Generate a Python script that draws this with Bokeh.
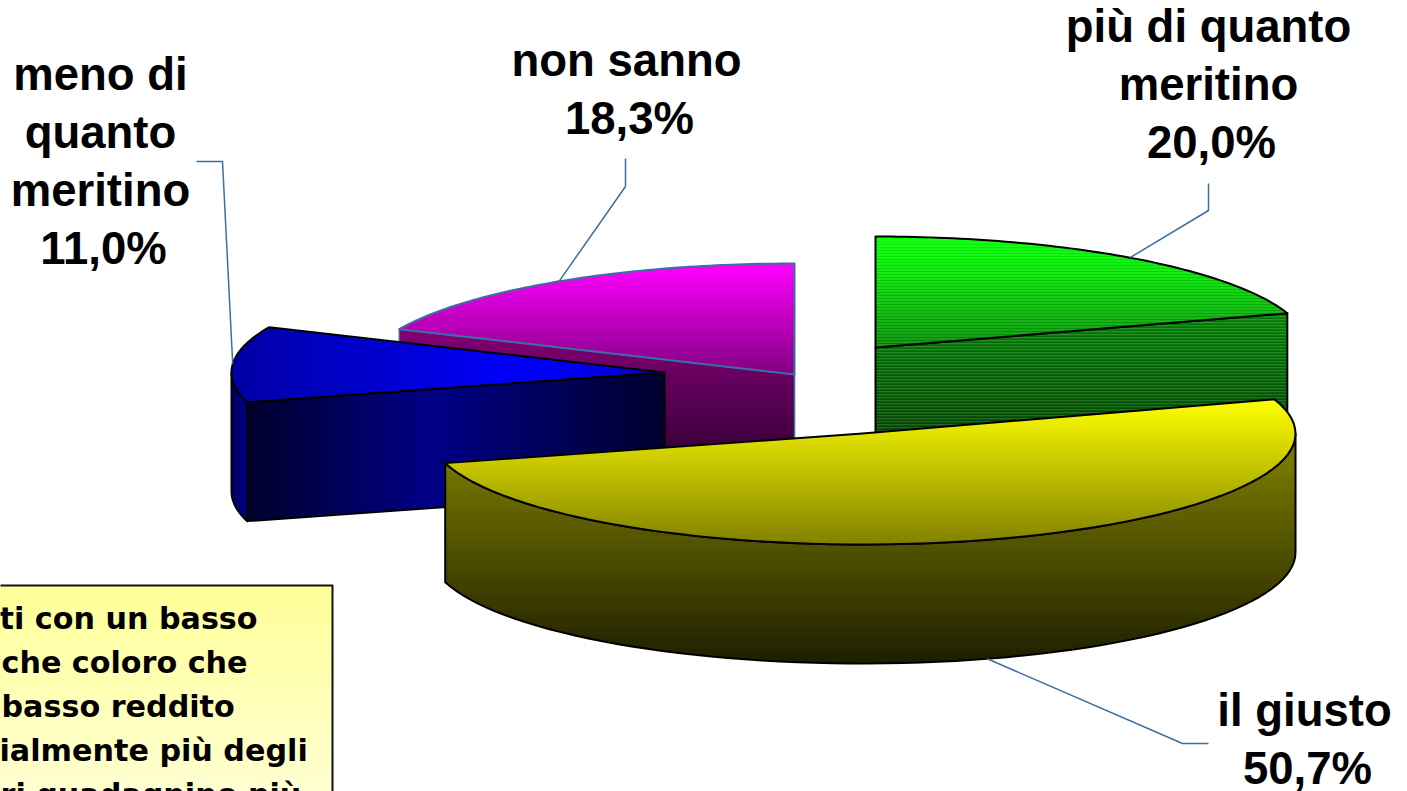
import math
from bokeh.plotting import figure
from bokeh.core.properties import value
from bokeh.embed import file_html
from bokeh.resources import INLINE

# ---- data
SHARES = [20.0, 50.7, 11.0, 18.3]
LABEL_LINES = [["più di quanto", "meritino"], ["il giusto"], ["meno di", "quanto", "meritino"], ["non sanno"]]
NOTE_LINES = ["ti con un basso", "che coloro che", "basso reddito", "ialmente più degli", "ri quadagnino più"]

# ---- layout / style
W, H = 1407, 791
RX, RY, DEPTH = 433, 111, 119
CENTERS = [(875, 347), (862, 433), (664, 372), (794, 374)]
LABEL_FONT = "Liberation Sans"
NOTE_FONT = "DejaVu Sans"
LABEL_SIZE = "45.5px"
NOTE_SIZE = "30.2px"
LEADER = "#3b6ea5"
SCAN = True

p = figure(width=W, height=H, x_range=(0, W), y_range=(H, 0), x_axis_type=None, y_axis_type=None,
           output_backend="svg", toolbar_location=None, min_border=0, outline_line_color=None)
p.grid.visible = False
p.background_fill_color = "white"
p.border_fill_color = "white"


def pt(c, deg, dz=0):
    a = math.radians(deg)
    return (c[0] + RX * math.sin(a), c[1] - RY * math.cos(a) + dz)


def arc(c, a0, a1, dz=0, n=70):
    return [pt(c, a0 + (a1 - a0) * i / n, dz) for i in range(n + 1)]


def clip(poly, axis, lim):
    """Keep the part of poly with coordinate >= lim."""
    out = []
    for i, a in enumerate(poly):
        b = poly[(i + 1) % len(poly)]
        ina, inb = a[axis] >= lim, b[axis] >= lim
        if ina:
            out.append(a)
        if ina != inb:
            t = (lim - a[axis]) / (b[axis] - a[axis])
            out.append((a[0] + t * (b[0] - a[0]), a[1] + t * (b[1] - a[1])))
    return out


def ramp(stops, v):
    if v <= stops[0][0]:
        return stops[0][1]
    for (v0, c0), (v1, c1) in zip(stops, stops[1:]):
        if v <= v1:
            t = (v - v0) / (v1 - v0)
            return tuple(c0[i] + t * (c1[i] - c0[i]) for i in range(3))
    return stops[-1][1]


def gradient(poly, axis, stops, step=2, scan=False):
    lo = min(q[axis] for q in poly)
    hi = max(q[axis] for q in poly)
    xs, ys, cols = [], [], []
    v = lo
    k = 0
    while v < hi:
        part = clip(poly, axis, v) if v > lo else poly
        if len(part) >= 3:
            r, g, b = ramp(stops, v)
            if scan and k % 3 == 0:
                r, g, b = min(r + 50, 255), min(g + 40, 255), min(b + 50, 255)
            xs.append([q[0] for q in part])
            ys.append([q[1] for q in part])
            cols.append("#%02x%02x%02x" % (int(r), int(g), int(b)))
        v += step
        k += 1
    p.patches(xs, ys, fill_color=cols, line_color=None)


def outline(poly, color, width=2):
    p.patch([q[0] for q in poly], [q[1] for q in poly], fill_color=None, line_color=color,
            line_width=width, line_join="round")


# angles from the shares, clockwise from the top
edges = [0.0]
for s in SHARES:
    edges.append(edges[-1] + s / sum(SHARES) * 360)
mids = [(a + b) / 2 for a, b in zip(edges, edges[1:])]

# ---- magenta slice
c, a0, a1 = CENTERS[3], edges[3], edges[4]
face = [pt(c, a0), c, (c[0], c[1] + DEPTH), pt(c, a0, DEPTH)]
gradient(face, 1, [(335, (128, 0, 115)), (445, (60, 0, 60))])
outline(face, LEADER, 1.5)
top = arc(c, a0, a1) + [c]
gradient(top, 1, [(263, (255, 0, 255)), (374, (128, 0, 128))])
outline(top, LEADER, 2)

# ---- green slice
c, a0, a1 = CENTERS[0], edges[0], edges[1]
face = [c, pt(c, a1), pt(c, a1, DEPTH), (c[0], c[1] + DEPTH)]
gradient(face, 1, [(312, (0, 125, 0)), (432, (0, 68, 0))], step=1, scan=SCAN)
outline(face, "black")
top = arc(c, a0, a1) + [c]
gradient(top, 1, [(236, (0, 255, 0)), (347, (0, 128, 0))], step=1, scan=SCAN)
outline(top, "black")

# ---- blue slice
c, a0, a1 = CENTERS[2], edges[2], edges[3]
face = [c, pt(c, a0), pt(c, a0, DEPTH), (c[0], c[1] + DEPTH)]
gradient(face, 0, [(246, (0, 0, 45)), (430, (0, 0, 135)), (664, (0, 0, 45))])
outline(face, "black")
rim = arc(c, a0, 270, n=20) + arc(c, 270, a0, DEPTH, n=20)
gradient(rim, 0, [(232, (0, 0, 100)), (246, (0, 0, 140))], step=1)
outline(rim, "black")
top = arc(c, a0, a1) + [c]
gradient(top, 0, [(232, (0, 0, 165)), (530, (0, 0, 255)), (664, (0, 0, 195))])
outline(top, "black")

# ---- yellow slice
c, a0, a1 = CENTERS[1], edges[1], edges[2]
rim = arc(c, 90, a1) + arc(c, a1, 90, DEPTH)
gradient(rim, 1, [(465, (118, 118, 0)), (664, (30, 30, 0))])
outline(rim, "black")
top = arc(c, a0, a1) + [c]
gradient(top, 1, [(399, (255, 255, 0)), (545, (128, 128, 0))])
outline(top, "black")

# ---- leader lines
ANCH = [pt(CENTERS[0], mids[0]), pt(CENTERS[1], mids[1], DEPTH), pt(CENTERS[2], mids[2]), pt(CENTERS[3], mids[3])]
ELBOWS = [[(1208, 210), (1208, 183)], [(1182, 743), (1208, 743)], [(222, 161), (196, 161)], [(625, 186), (625, 158)]]
for a, e in zip(ANCH, ELBOWS):
    pts = [a] + e
    p.line([q[0] for q in pts], [q[1] for q in pts], line_color=LEADER, line_width=1.5)

# ---- note box
BOX = [(-4, 585), (332, 585), (332, 800), (-4, 800)]
gradient(BOX, 1, [(585, (255, 255, 153)), (791, (255, 255, 210))])
outline(BOX, "#111111", 2)
NOTE_X = [-1, 1, 1, -1, 0]
NOTE_Y = [618, 662, 706, 750, 794]
p.text(NOTE_X, NOTE_Y, text=NOTE_LINES, text_font=value(NOTE_FONT), text_font_style="bold",
       text_font_size=value(NOTE_SIZE), text_color="black", text_align="left", text_baseline="alphabetic")

# ---- slice labels
LABEL_X = [1208, 1304, 100, 626]
LABEL_BASE = [26, 710, 74, 60]
LINE_STEP = 58
for lines, share, x, y in zip(LABEL_LINES, SHARES, LABEL_X, LABEL_BASE):
    rows = lines + [f"{share:.1f}%".replace(".", ",")]
    xs = [x] * (len(rows) - 1) + [x + 3]
    ys = [y + i * LINE_STEP for i in range(len(rows))]
    p.text(xs, ys, text=rows, text_font=value(LABEL_FONT), text_font_style="bold", text_font_size=value(LABEL_SIZE),
           text_color="black", text_align="center", text_baseline="alphabetic")

open("out.html", "w").write(file_html(p, INLINE))
